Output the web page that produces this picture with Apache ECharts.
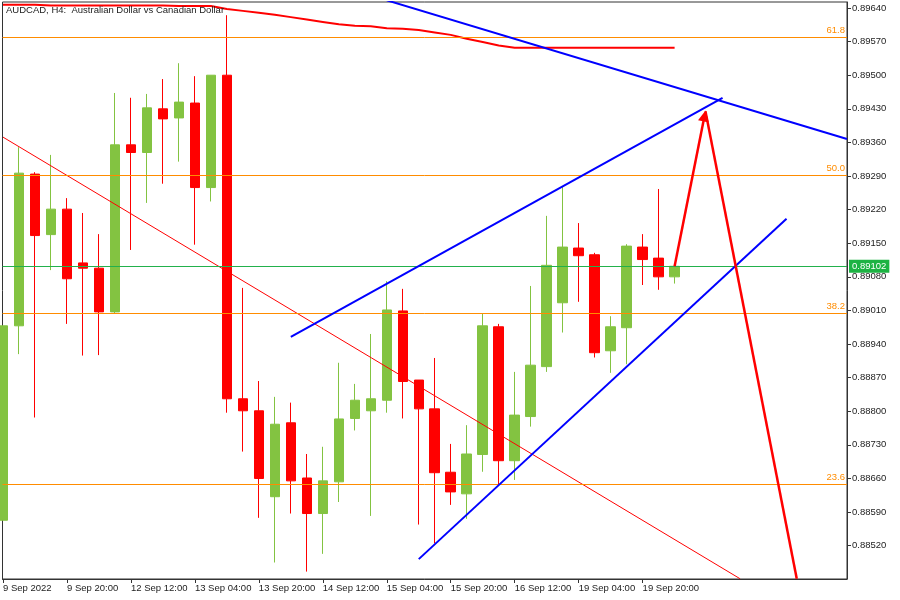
<!DOCTYPE html>
<html><head><meta charset="utf-8">
<script src="https://cdn.jsdelivr.net/npm/echarts@6/dist/echarts.min.js"></script>
<style>html,body{margin:0;padding:0;background:#fff}#c{width:900px;height:600px}</style>
</head><body><div id="c"></div>
<script>
// H4 candles, index 0 = 9 Sep 2022 04:00
const opens  = [0.88573,0.88978,0.89294,0.89168,0.89221,0.89109,0.89098,0.89007,0.89355,0.89339,
                0.89430,0.89411,0.89442,0.89266,0.89500,0.88826,0.88801,0.88622,0.88776,0.88661,
                0.88587,0.88653,0.88785,0.88801,0.88823,0.89009,0.88865,0.88805,0.88673,0.88628,
                0.88710,0.88976,0.88697,0.88789,0.88893,0.89026,0.89140,0.89126,0.88926,0.88974,
                0.89142,0.89119,0.89080];
const closes = [0.88978,0.89296,0.89166,0.89221,0.89076,0.89098,0.89007,0.89355,0.89339,0.89432,
                0.89409,0.89444,0.89266,0.89500,0.88826,0.88801,0.88660,0.88773,0.88655,0.88587,
                0.88655,0.88784,0.88823,0.88826,0.89011,0.88862,0.88805,0.88672,0.88632,0.88711,
                0.88978,0.88697,0.88792,0.88896,0.89104,0.89142,0.89124,0.88922,0.88976,0.89144,
                0.89116,0.89080,0.89102];
const lows   = [0.88573,0.88919,0.88787,0.89094,0.88982,0.88916,0.88917,0.89004,0.89136,0.89234,
                0.89274,0.89320,0.89147,0.89237,0.88797,0.88716,0.88578,0.88485,0.88587,0.88466,
                0.88503,0.88611,0.88760,0.88582,0.88797,0.88785,0.88564,0.88525,0.88605,0.88576,
                0.88674,0.88646,0.88657,0.88768,0.88882,0.88964,0.89028,0.88912,0.88880,0.88898,
                0.89063,0.89053,0.89066];
const highs  = [0.88978,0.89350,0.89298,0.89334,0.89244,0.89213,0.89169,0.89463,0.89453,0.89461,
                0.89492,0.89525,0.89498,0.89500,0.89625,0.89057,0.88863,0.88830,0.88818,0.88711,
                0.88726,0.88901,0.88857,0.88961,0.89071,0.89055,0.88865,0.88911,0.88732,0.88771,
                0.89003,0.88982,0.88882,0.89061,0.89207,0.89268,0.89192,0.89130,0.88998,0.89148,
                0.89169,0.89263,0.89104];
const maValues = [0.89647,0.89647,0.89647,0.89645,0.89645,0.89645,0.89645,0.89645,0.89645,0.89645,
                  0.89645,0.89644,0.89644,0.89644,0.89638,0.89634,0.89630,0.89626,0.89621,0.89616,
                  0.89611,0.89606,0.89603,0.89602,0.89598,0.89597,0.89594,0.89589,0.89584,0.89576,
                  0.89569,0.89562,0.89557,0.89557,0.89557,0.89557,0.89557,0.89557,0.89557,0.89557,
                  0.89557,0.89557,0.89557];
const timeLabels = ['9 Sep 2022','9 Sep 20:00','12 Sep 12:00','13 Sep 04:00','13 Sep 20:00','14 Sep 12:00',
                    '15 Sep 04:00','15 Sep 20:00','16 Sep 12:00','19 Sep 04:00','19 Sep 20:00'];
const timeTickIndex = [0,4,8,12,16,20,24,28,32,36,40];
const priceTicks = [0.89640,0.89570,0.89500,0.89430,0.89360,0.89290,0.89220,0.89150,0.89080,
                    0.89010,0.88940,0.88870,0.88800,0.88730,0.88660,0.88590,0.88520];
const fibLevels = [0.895786,0.892911,0.890037,0.886475];
const fibNames  = ['61.8','50.0','38.2','23.6'];
const lastPrice = 0.89102;
const resistanceLine = [[24,0.89656],[52.78,0.89367]];
const channelUpper = [[18,0.88955],[45,0.89453]];
const channelLower = [[26,0.88492],[49,0.89201]];
const trendLine = [[0,0.89371],[46.1,0.88451]];
const projectionUp = [[42,0.89102],[43.87,0.89415]];
const projectionDown = [[43.93,0.89425],[49.64,0.88451]];

const X_MIN = -0.03125, X_MAX = 52.78125;
const GREEN = '#83c341', RED = '#ff0000', BLUE = '#0000ff', ORANGE = '#ff8c00';
const FONT = 'Liberation Sans';

const chart = echarts.init(document.getElementById('c'), null, {renderer:'canvas'});
const lineSeries = (data, color, width, z, extra) => Object.assign({
  type:'line', data, symbol:'none', silent:true, z: z||3,
  lineStyle:{color, width}, clip:true, animation:false
}, extra || {});

const hLine = (v, color, label) => [
  {coord:[X_MIN, v], lineStyle:{color, width:1, type:'solid'}, label},
  {coord:[X_MAX, v]}
];
const levelLines = fibLevels.map((v,i)=>hLine(v, ORANGE,
    {show:true, position:'insideEndTop', formatter:fibNames[i], color:ORANGE, fontSize:9.5, fontFamily:FONT, distance:[2,2]}))
  .concat([hLine(lastPrice, '#22b14c',
    {show:true, position:'end', formatter:lastPrice.toFixed(5), color:'#fff', backgroundColor:'#1db343',
      padding:[2,3,1,3], fontSize:9.5, fontFamily:FONT, distance:2})]);

chart.setOption({
  animation:false,
  backgroundColor:'#ffffff',
  title:{text:'AUDCAD, H4:  Australian Dollar vs Canadian Dollar', left:1, top:0,
    textStyle:{fontSize:9.5, fontWeight:'normal', color:'#222', fontFamily:FONT}},
  grid:{left:2, top:2, width:845, height:577, show:true, borderColor:'#333', borderWidth:1, backgroundColor:'#fff'},
  xAxis:{type:'value', min:X_MIN, max:X_MAX, splitLine:{show:false},
    axisLine:{show:true, onZero:false, lineStyle:{color:'#333'}},
    axisTick:{show:true, length:4, lineStyle:{color:'#333'}, customValues:timeTickIndex},
    axisLabel:{customValues:timeTickIndex, align:'left', margin:4, fontSize:9.5, color:'#222', fontFamily:FONT,
      formatter:v=>timeLabels[timeTickIndex.indexOf(Math.round(v))] || ''}},
  yAxis:{type:'value', position:'right', min:0.884506, max:0.896525, scale:true, splitLine:{show:false},
    axisLine:{show:true, onZero:false, lineStyle:{color:'#333'}},
    axisTick:{show:true, length:4, lineStyle:{color:'#333'}, customValues:priceTicks},
    axisLabel:{customValues:priceTicks, margin:5, fontSize:9.5, color:'#222', fontFamily:FONT,
      formatter:v=>v.toFixed(5)}},
  series:[
    {type:'candlestick', barWidth:10, z:2,
     data: opens.map((o,i)=>[i,o,closes[i],lows[i],highs[i]]),
     encode:{x:0, y:[1,2,3,4]},
     itemStyle:{color:GREEN, color0:RED, borderColor:GREEN, borderColor0:RED, borderWidth:1},
     clip:true},
    lineSeries(maValues.map((v,i)=>[i,v]), RED, 2, 4,
      {markLine:{silent:true, symbol:'none', animation:false, data:levelLines}}),
    lineSeries(trendLine, RED, 1, 4),
    lineSeries(resistanceLine, BLUE, 2, 5),
    lineSeries(channelUpper, BLUE, 2, 5),
    lineSeries(channelLower, BLUE, 2, 5),
    lineSeries(projectionDown, RED, 2.5, 6,
      {markLine:{silent:true, animation:false, symbol:['none','triangle'], symbolSize:[11,11],
       lineStyle:{color:RED, width:2.5, type:'solid'}, label:{show:false},
       data:[[{coord:projectionUp[0]},{coord:projectionUp[1]}]]}})
  ]
});
</script></body></html>
